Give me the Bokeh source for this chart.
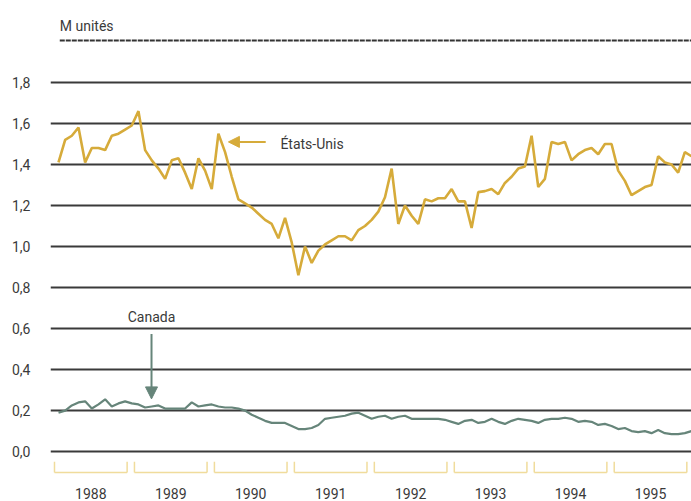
from bokeh.plotting import figure
from bokeh.models import FixedTicker, Arrow, NormalHead, Label, Range1d
from bokeh.layouts import column
from bokeh.embed import file_html
from bokeh.resources import INLINE
from bokeh.core.properties import value

# ---------------- data ----------------
years = [1988, 1989, 1990, 1991, 1992, 1993, 1994, 1995]
year_labels = [str(y) for y in years]

# monthly values, millions of units, Jan 1988 - Dec 1995
us = [1.41, 1.52, 1.54, 1.58, 1.41, 1.48, 1.48, 1.47, 1.54, 1.55, 1.57, 1.59,
      1.66, 1.47, 1.42, 1.38, 1.33, 1.42, 1.43, 1.36, 1.28, 1.43, 1.37, 1.28,
      1.55, 1.46, 1.34, 1.23, 1.21, 1.19, 1.16, 1.13, 1.11, 1.04, 1.14, 1.02,
      0.86, 1.00, 0.92, 0.98, 1.01, 1.03, 1.05, 1.05, 1.03, 1.08, 1.10, 1.13,
      1.17, 1.24, 1.38, 1.11, 1.20, 1.15, 1.11, 1.23, 1.22, 1.235, 1.235, 1.28,
      1.22, 1.22, 1.09, 1.265, 1.27, 1.28, 1.255, 1.31, 1.34, 1.38, 1.39, 1.54,
      1.29, 1.33, 1.51, 1.50, 1.51, 1.42, 1.45, 1.47, 1.48, 1.45, 1.50, 1.50,
      1.37, 1.32, 1.25, 1.27, 1.29, 1.30, 1.44, 1.41, 1.40, 1.36, 1.46, 1.44]

canada = [0.19, 0.20, 0.225, 0.24, 0.245, 0.21, 0.23, 0.255, 0.22, 0.235, 0.245, 0.235,
          0.23, 0.215, 0.22, 0.225, 0.21, 0.21, 0.21, 0.21, 0.24, 0.22, 0.225, 0.23,
          0.22, 0.215, 0.215, 0.21, 0.20, 0.18, 0.165, 0.15, 0.14, 0.14, 0.14, 0.125,
          0.11, 0.11, 0.115, 0.13, 0.16, 0.165, 0.17, 0.175, 0.185, 0.19, 0.175, 0.16,
          0.17, 0.175, 0.16, 0.17, 0.175, 0.16, 0.16, 0.16, 0.16, 0.16, 0.155, 0.145,
          0.135, 0.15, 0.155, 0.14, 0.145, 0.16, 0.145, 0.135, 0.15, 0.16, 0.155, 0.15,
          0.14, 0.155, 0.16, 0.16, 0.165, 0.16, 0.145, 0.15, 0.145, 0.13, 0.135, 0.125,
          0.11, 0.115, 0.10, 0.095, 0.10, 0.09, 0.105, 0.09, 0.085, 0.085, 0.09, 0.10]

y_ticks = [0.0, 0.2, 0.4, 0.6, 0.8, 1.0, 1.2, 1.4, 1.6, 1.8]
y_tick_labels = ["0,0", "0,2", "0,4", "0,6", "0,8", "1,0", "1,2", "1,4", "1,6", "1,8"]
unit_label = "M unités"
us_name = "États-Unis"
ca_name = "Canada"

months = list(range(len(us)))

# ---------------- style ----------------
FONT = "Roboto"
TEXT = "#3a3a3a"
GOLD = "#d6ab3a"
TEAL = "#66857a"
PALE = "#f0dc9c"
W = 691

# ---------------- header ----------------
header = figure(width=W, height=46, x_range=Range1d(0, W), y_range=Range1d(0, 46),
                output_backend="svg", toolbar_location=None, min_border=0)
header.xaxis.visible = False
header.yaxis.visible = False
header.grid.visible = False
header.outline_line_color = None
header.text(x=[10], y=[21], text=[unit_label], text_font=value(FONT),
            text_font_size="14px", text_color=TEXT, text_baseline="middle")
header.segment(x0=[10], y0=[6], x1=[W], y1=[6], line_color="#333333",
               line_width=2.2, line_dash="5 1")

# ---------------- main plot ----------------
p = figure(width=W, height=455, x_range=Range1d(-1.2, 95.0),
           y_range=Range1d(-0.1116, 1.941), output_backend="svg",
           toolbar_location=None, min_border_left=50, min_border_right=0,
           min_border_top=7, min_border_bottom=24)
p.outline_line_color = None
p.xgrid.visible = False
p.ygrid.ticker = FixedTicker(ticks=y_ticks)
p.ygrid.grid_line_color = "#3a3a3a"
p.ygrid.grid_line_width = 2

p.yaxis.ticker = FixedTicker(ticks=y_ticks)
p.yaxis.major_label_overrides = {t: l for t, l in zip(y_ticks, y_tick_labels)}
p.yaxis.axis_line_color = None
p.yaxis.major_tick_line_color = None
p.yaxis.minor_tick_line_color = None
p.yaxis.major_label_standoff = 14
p.yaxis.major_label_text_font = FONT
p.yaxis.major_label_text_font_size = "14px"
p.yaxis.major_label_text_color = TEXT

n = len(years)
bracket_start = [12 * i - 0.6 for i in range(n)]
bracket_end = [12 * i + 10.3 for i in range(n)]
year_ticks = [(s + e) / 2 for s, e in zip(bracket_start, bracket_end)]

p.xaxis.ticker = FixedTicker(ticks=year_ticks)
p.xaxis.major_label_overrides = {t: l for t, l in zip(year_ticks, year_labels)}
p.xaxis.axis_line_color = None
p.xaxis.major_tick_line_color = None
p.xaxis.minor_tick_line_color = None
p.xaxis.major_label_standoff = 7
p.xaxis.major_label_text_font = FONT
p.xaxis.major_label_text_font_size = "14px"
p.xaxis.major_label_text_color = TEXT

# year brackets
yb = -0.102
yt = -0.05
p.segment(x0=bracket_start, y0=[yb] * n, x1=bracket_end, y1=[yb] * n,
          line_color=PALE, line_width=1.5)
p.segment(x0=bracket_start + bracket_end, y0=[yb] * (2 * n),
          x1=bracket_start + bracket_end, y1=[yt] * (2 * n),
          line_color=PALE, line_width=1.5)

# series
p.line(months, us, line_color=GOLD, line_width=2.6)
p.line(months, canada, line_color=TEAL, line_width=2.2)

# annotations
p.add_layout(Arrow(end=NormalHead(size=11, fill_color=GOLD, line_color=GOLD),
                   x_start=31.1, y_start=1.51, x_end=25.5, y_end=1.51,
                   line_color=GOLD, line_width=2))
p.add_layout(Label(x=33.3, y=1.50, text=us_name, text_font=FONT,
                   text_font_size="14px", text_color=TEXT, text_baseline="middle"))
p.add_layout(Arrow(end=NormalHead(size=12, fill_color=TEAL, line_color=TEAL),
                   x_start=13.96, y_start=0.573, x_end=13.96, y_end=0.257,
                   line_color=TEAL, line_width=2))
p.add_layout(Label(x=13.96, y=0.655, text=ca_name, text_font=FONT,
                   text_font_size="14px", text_color=TEXT, text_align="center",
                   text_baseline="middle"))

layout = column(header, p)
open("out.html", "w").write(file_html(layout, INLINE))
